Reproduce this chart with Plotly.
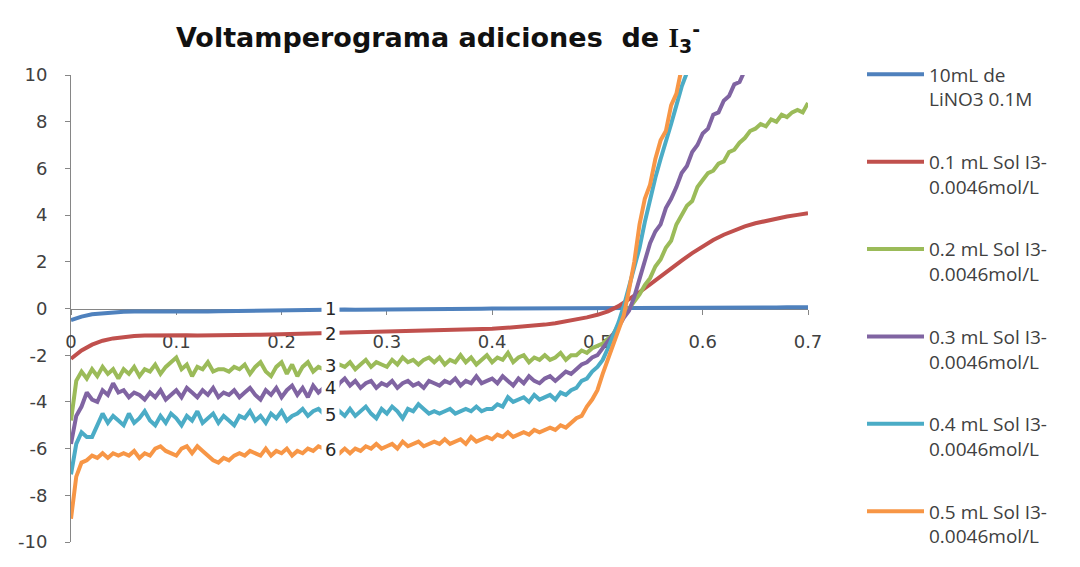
import numpy as np
import plotly.graph_objects as go

# ---------------- data ----------------
x_smooth = np.round(np.arange(0, 0.7001, 0.01), 3)
x_fine = np.round(np.arange(0, 0.7001, 0.005), 3)

blank = [-0.50, -0.35, -0.25, -0.20, -0.16, -0.14, -0.13, -0.13, -0.14, -0.16,
         -0.17, -0.16, -0.14, -0.13, -0.12, -0.11, -0.10, -0.10, -0.09, -0.08,
         -0.07, -0.06, -0.05, -0.04, -0.04, -0.04, -0.04, -0.05, -0.05, -0.04,
         -0.04, -0.03, -0.03, -0.03, -0.02, -0.02, -0.02, -0.01, -0.01, -0.01,
         0.00, 0.00, 0.00, 0.01, 0.01, 0.01, 0.01, 0.02, 0.02, 0.02,
         0.02, 0.02, 0.03, 0.03, 0.03, 0.03, 0.03, 0.03, 0.03, 0.03,
         0.03, 0.03, 0.04, 0.04, 0.04, 0.04, 0.04, 0.04, 0.05, 0.05, 0.05]

add_01 = [-2.15, -1.80, -1.55, -1.38, -1.28, -1.22, -1.18, -1.16, -1.15, -1.14,
          -1.14, -1.15, -1.16, -1.16, -1.15, -1.14, -1.13, -1.13, -1.12, -1.11,
          -1.10, -1.09, -1.08, -1.07, -1.06, -1.05, -1.04, -1.03, -1.02, -1.01,
          -1.00, -0.99, -0.98, -0.97, -0.96, -0.95, -0.94, -0.93, -0.91, -0.89,
          -0.87, -0.84, -0.81, -0.78, -0.74, -0.69, -0.63, -0.56, -0.48, -0.38,
          -0.27, -0.12, 0.10, 0.38, 0.70, 1.03, 1.38, 1.72, 2.05, 2.37,
          2.66, 2.93, 3.16, 3.36, 3.52, 3.65, 3.76, 3.86, 3.94, 4.01, 4.08]

add_02 = [-4.8, -3.1, -2.7, -3.0, -2.6, -2.9, -2.5, -2.8, -2.6, -3.0,
          -2.6, -2.8, -2.5, -2.9, -2.6, -2.7, -2.4, -2.8, -2.5, -2.3,
          -2.1, -2.6, -2.4, -2.9, -2.5, -2.6, -2.3, -2.7, -2.6, -2.6,
          -2.7, -2.5, -2.6, -2.4, -2.8, -2.5, -2.3, -2.7, -2.9, -2.5,
          -2.3, -2.8, -2.4, -2.9, -2.5, -2.3, -2.7, -2.5, -2.6, -2.5,
          -2.6, -2.4, -2.5, -2.3, -2.6, -2.4, -2.2, -2.5, -2.3, -2.4,
          -2.5, -2.2, -2.4, -2.1, -2.3, -2.2, -2.4, -2.2, -2.1, -2.3,
          -2.1, -2.4, -2.2, -2.3, -2.0, -2.3, -2.1, -2.4, -2.2, -2.0,
          -2.3, -2.1, -2.2, -1.9, -2.3, -2.1, -2.0, -2.3, -2.1, -2.2,
          -2.0, -2.2, -2.1, -1.9, -2.2, -2.0, -2.0, -1.8, -1.9, -1.7,
          -1.6, -1.5, -1.3, -1.1, -0.7, -0.3, 0.0, 0.3, 0.6, 1.0,
          1.3, 1.8, 2.1, 2.6, 2.9, 3.6, 4.0, 4.4, 4.6, 5.2,
          5.5, 5.8, 5.9, 6.2, 6.3, 6.7, 6.8, 7.1, 7.3, 7.6,
          7.7, 7.9, 7.8, 8.1, 8.0, 8.3, 8.2, 8.4, 8.5, 8.4, 8.8]

add_03 = [-5.8, -4.6, -4.2, -3.6, -3.9, -4.0, -3.5, -3.7, -3.2, -3.6,
          -3.5, -3.8, -3.6, -3.7, -3.9, -3.6, -3.8, -3.5, -3.9, -3.7,
          -3.5, -3.8, -3.4, -3.6, -3.8, -3.5, -3.7, -3.4, -3.8, -3.6,
          -3.7, -3.5, -3.8, -3.6, -3.4, -3.7, -3.9, -3.5, -3.7, -3.4,
          -3.8, -3.5, -3.3, -3.7, -3.4, -3.8, -3.3, -3.6, -3.4, -3.5,
          -3.6, -3.2, -3.0, -3.3, -3.1, -3.4, -3.2, -3.1, -3.4, -3.2,
          -3.3, -3.1, -3.4, -3.2, -3.1, -3.3, -3.2, -3.4, -3.1, -3.2,
          -3.3, -3.1, -3.2, -3.0, -3.3, -3.1, -3.2, -2.9, -3.2, -3.1,
          -3.0, -3.2, -2.9, -3.1, -3.3, -3.0, -3.2, -2.9, -3.1, -3.2,
          -3.0, -2.9, -3.1, -2.9, -2.7, -2.8, -2.6, -2.4, -2.3, -2.1,
          -2.0, -1.7, -1.4, -1.1, -0.8, -0.4, -0.1, 0.5, 1.3, 2.1,
          2.8, 3.3, 3.6, 4.3, 4.7, 5.2, 5.8, 6.1, 6.7, 7.0,
          7.5, 7.7, 8.3, 8.4, 8.9, 9.1, 9.6, 9.7, 10.2, 10.4]

add_04 = [-7.1, -5.8, -5.3, -5.5, -5.5, -5.0, -4.5, -4.9, -4.6, -4.8,
          -5.0, -4.5, -4.9, -4.7, -4.4, -4.8, -5.0, -4.6, -4.9, -4.5,
          -4.7, -5.0, -4.6, -4.8, -4.4, -4.9, -4.7, -4.5, -4.9, -4.6,
          -4.8, -5.0, -4.6, -4.7, -4.4, -4.8, -4.6, -4.9, -4.5, -4.7,
          -4.4, -4.8, -4.6, -4.5, -4.3, -4.6, -4.4, -4.3, -4.5, -4.4,
          -4.7, -4.4, -4.6, -4.3, -4.6, -4.4, -4.2, -4.5, -4.7, -4.3,
          -4.5, -4.2, -4.4, -4.7, -4.3, -4.4, -4.1, -4.3, -4.5, -4.4,
          -4.5, -4.4, -4.3, -4.5, -4.4, -4.3, -4.4, -4.2, -4.4, -4.3,
          -4.3, -4.1, -4.2, -3.8, -4.0, -3.9, -3.8, -4.0, -3.7, -3.9,
          -3.8, -3.7, -3.9, -3.6, -3.7, -3.5, -3.4, -3.1, -3.0, -2.7,
          -2.5, -2.2, -1.7, -1.2, -0.6, 0.1, 0.9, 1.7, 2.6, 3.7,
          4.7, 5.6, 6.4, 7.1, 7.9, 8.7, 9.5, 10.1, 10.4]

add_05 = [-9.0, -7.2, -6.6, -6.5, -6.3, -6.4, -6.2, -6.4, -6.2, -6.3,
          -6.2, -6.3, -6.1, -6.4, -6.2, -6.3, -6.0, -5.9, -6.1, -6.2,
          -6.3, -6.0, -5.9, -6.2, -5.9, -6.1, -6.3, -6.5, -6.6, -6.4,
          -6.5, -6.3, -6.2, -6.3, -6.1, -6.2, -6.3, -6.0, -6.3, -6.1,
          -6.2, -6.0, -6.3, -6.1, -6.2, -6.0, -6.1, -5.9, -6.0, -6.1,
          -6.0, -6.2, -6.0, -6.2, -6.0, -6.1, -5.9, -6.0, -5.8, -6.0,
          -5.9, -5.8, -6.0, -5.7, -5.9, -5.8, -5.7, -5.9, -5.8, -5.7,
          -5.8, -5.6, -5.8, -5.7, -5.6, -5.8, -5.5, -5.7, -5.6, -5.5,
          -5.6, -5.4, -5.5, -5.3, -5.5, -5.4, -5.3, -5.4, -5.2, -5.3,
          -5.2, -5.1, -5.2, -5.0, -5.1, -4.9, -4.7, -4.6, -4.2, -3.9,
          -3.5, -2.8, -2.2, -1.6, -1.0, -0.3, 0.8, 2.0, 3.6, 4.7,
          5.3, 6.4, 7.2, 7.6, 8.7, 9.2, 10.3]

series_names = ["10mL de<br>LiNO3 0.1M",
                "0.1 mL Sol I3-<br>0.0046mol/L",
                "0.2 mL Sol I3-<br>0.0046mol/L",
                "0.3 mL Sol I3-<br>0.0046mol/L",
                "0.4 mL Sol I3-<br>0.0046mol/L",
                "0.5 mL Sol I3-<br>0.0046mol/L"]
series_colors = ["#4F81BD", "#C0504D", "#9BBB59", "#8064A2", "#4BACC6", "#F79646"]

label_texts = ["1", "2", "3", "4", "5", "6"]
label_x = 0.2465
label_y = [0.0, -1.05, -2.45, -3.4, -4.55, -6.05]

x_ticks = [0, 0.1, 0.2, 0.3, 0.4, 0.5, 0.6, 0.7]
x_ticktext = ["0", "0.1", "0.2", "0.3", "0.4", "0.5", "0.6", "0.7"]
y_ticks = [-10, -8, -6, -4, -2, 0, 2, 4, 6, 8, 10]
y_ticktext = ["-10", "-8", "-6", "-4", "-2", "0", "2", "4", "6", "8", "10"]

# ---------------- figure ----------------
fig = go.Figure()
all_y = [blank, add_01, add_02, add_03, add_04, add_05]
all_x = [x_smooth, x_smooth, x_fine, x_fine, x_fine, x_fine]
for i, (xs, ys) in enumerate(zip(all_x, all_y)):
    fig.add_trace(go.Scatter(
        x=xs[:len(ys)], y=ys, mode="lines", name=series_names[i],
        legendgroup=f"g{i}",
        line=dict(color=series_colors[i], width=4),
    ))

for t, yv in zip(label_texts, label_y):
    fig.add_annotation(x=label_x, y=yv, text=t, showarrow=False,
                       font=dict(family="DejaVu Sans", size=18, color="#262626"),
                       bgcolor="white", borderpad=3)

axis_font = dict(family="DejaVu Sans", size=18, color="#404040")
fig.update_layout(
    width=1080, height=567, autosize=False,
    margin=dict(l=71, r=272, t=75, b=25),
    paper_bgcolor="white", plot_bgcolor="white",
    title=dict(
        text="<b>Voltamperograma adiciones&nbsp; de </b>"
             "<span style='font-family:Liberation Serif'><b>I</b></span>"
             "<sub><b>3</b></sub><sup><b>-</b></sup>",
        x=(438 - 71) / 737, xref="paper", xanchor="center",
        y=1 - 38 / 567, yref="container", yanchor="middle",
        font=dict(family="DejaVu Sans", size=27, color="#111111"),
    ),
    xaxis=dict(
        range=[0, 0.7], tickvals=x_ticks, ticktext=x_ticktext,
        anchor="free", position=0.5,
        showline=True, linecolor="#868686", linewidth=1,
        ticks="outside", ticklen=5, tickcolor="#868686",
        showgrid=False, zeroline=False, tickfont=axis_font,
        ticklabelstandoff=12, layer="below traces",
    ),
    yaxis=dict(
        range=[-10, 10], tickvals=y_ticks, ticktext=y_ticktext,
        showline=True, linecolor="#868686", linewidth=1,
        ticks="outside", ticklen=5, tickcolor="#868686",
        showgrid=False, zeroline=False, tickfont=axis_font,
        ticklabelstandoff=14, layer="below traces",
    ),
    legend=dict(
        x=(862 - 71) / 737, y=1.042, xanchor="left", yanchor="top",
        font=dict(family="Open Sans", size=19, color="#404040"),
        valign="top", itemwidth=57, tracegroupgap=35,
        bgcolor="rgba(0,0,0,0)", maxheight=1.0,
    ),
    showlegend=True,
)

fig.write_html("out.html", config={"displayModeBar": False},
               post_script="document.body.style.margin='0';")
